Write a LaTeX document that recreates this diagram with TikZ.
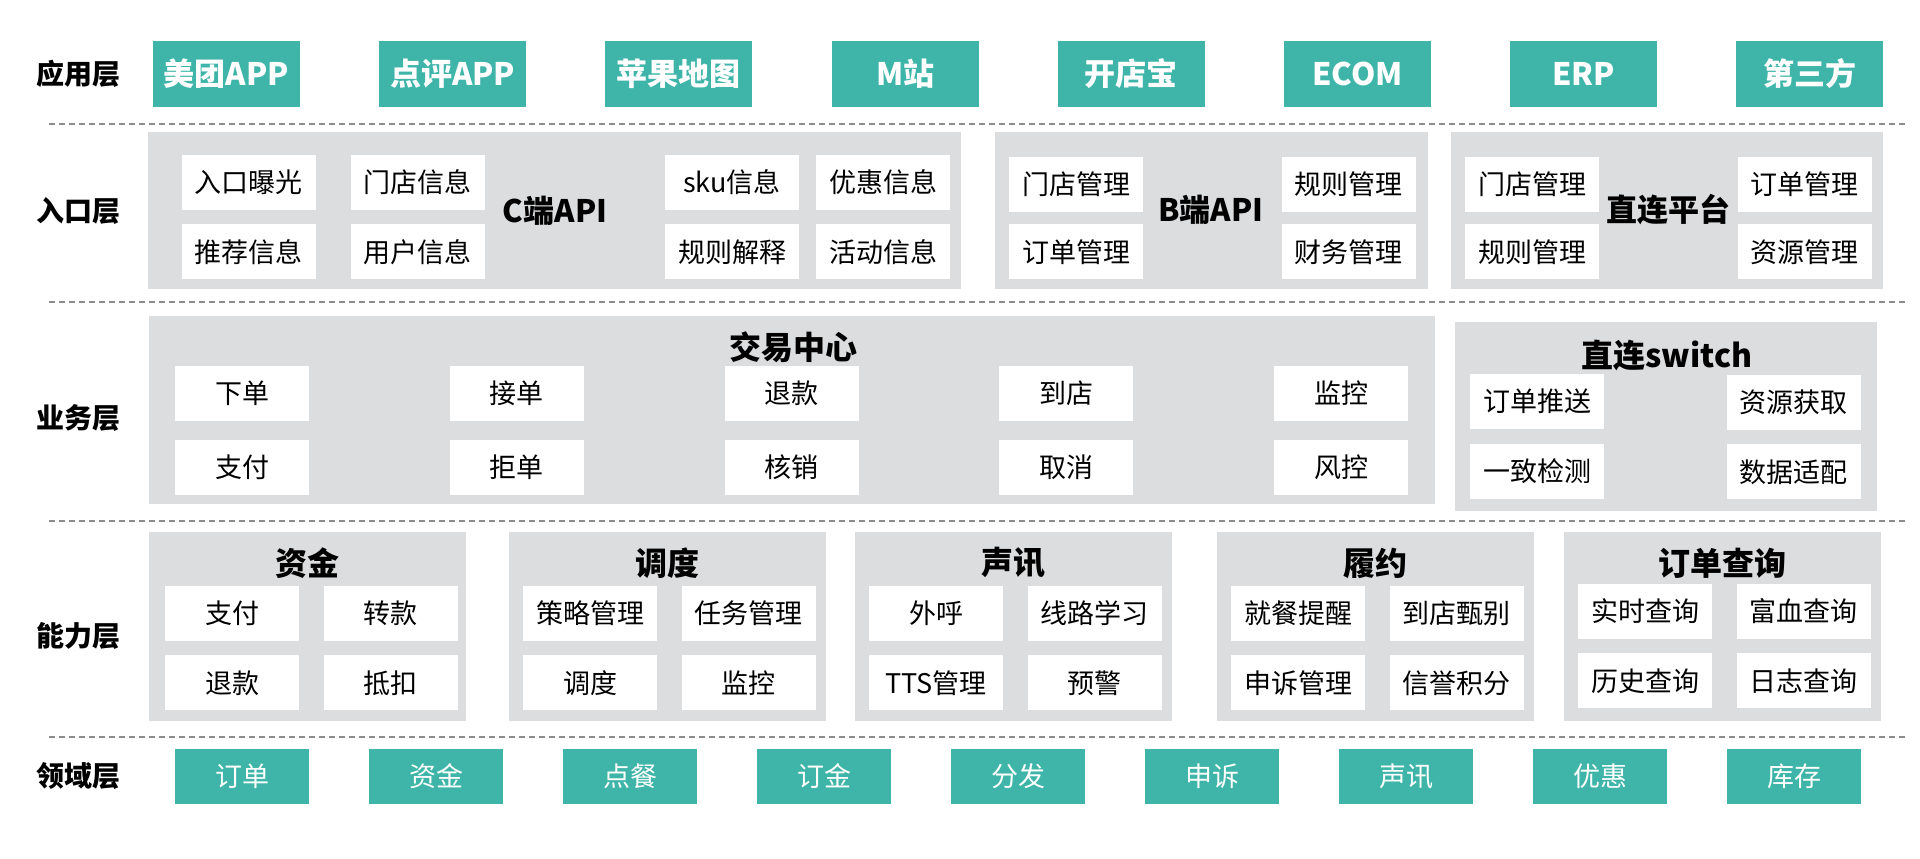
\documentclass[tikz,border=0pt]{standalone}
\usepackage{fontspec}
\setmainfont{Noto Sans CJK SC}
\usetikzlibrary{positioning}
\definecolor{tealbox}{RGB}{62,181,168}
\definecolor{panelgray}{RGB}{220,221,223}
\definecolor{sepgray}{RGB}{140,140,140}

\begin{document}
\begin{tikzpicture}[x=0.5pt, y=-0.5pt,
        layername/.style={font=\bfseries\fontsize{14pt}{16pt}\selectfont},
        app/.style={rectangle, fill=tealbox, text=white, minimum width=73.5pt, minimum height=33pt, inner sep=0pt, font=\bfseries\fontsize{15.5pt}{18pt}\selectfont},
        domtile/.style={rectangle, fill=tealbox, text=white, minimum width=67pt, minimum height=27.5pt, inner sep=0pt, font=\fontsize{13.5pt}{16pt}\selectfont},
        panel/.style={rectangle, fill=panelgray, inner sep=0pt},
        item/.style={rectangle, fill=white, minimum width=67pt, minimum height=27.5pt, inner sep=0pt, font=\fontsize{13.5pt}{16pt}\selectfont},
        paneltitle/.style={inner sep=0pt, font=\bfseries\fontsize{16pt}{18pt}\selectfont},
        apilabel/.style={inner sep=0pt, font=\bfseries\fontsize{15.5pt}{18pt}\selectfont},
        sepline/.style={draw=sepgray, line width=0.7pt, dash pattern=on 3pt off 2pt}
    ]
        \useasboundingbox (0,0) rectangle (1920,858);

        % Layer names
        \node[layername] (lApp) at (78.5,74) {应用层};
        \node[layername] (lEntry) at (78.5,211) {入口层};
        \node[layername] (lBiz) at (78.5,418) {业务层};
        \node[layername] (lCap) at (78.5,636) {能力层};
        \node[layername] (lDom) at (78.5,776) {领域层};

        % Separators
        \coordinate (s1w) at (49,124); \coordinate (s1e) at (1905,124);
        \coordinate (s2w) at (49,302); \coordinate (s2e) at (1905,302);
        \coordinate (s3w) at (49,521); \coordinate (s3e) at (1905,521);
        \coordinate (s4w) at (49,737); \coordinate (s4e) at (1905,737);
        \draw[sepline] (s1w) -- (s1e);
        \draw[sepline] (s2w) -- (s2e);
        \draw[sepline] (s3w) -- (s3e);
        \draw[sepline] (s4w) -- (s4e);

        % Application layer
        \node[app] (a1) at (226.5,74) {美团APP};
        \node[app, right=39.2pt of a1] (a2) {点评APP};
        \node[app, right=39.2pt of a2] (a3) {苹果地图};
        \node[app, right=39.2pt of a3] (a4) {M站};
        \node[app, right=39.2pt of a4] (a5) {开店宝};
        \node[app, right=39.2pt of a5] (a6) {ECOM};
        \node[app, right=39.2pt of a6] (a7) {ERP};
        \node[app, right=39.2pt of a7] (a8) {第三方};

        % Entry layer
        \node[panel, minimum width=406.5pt, minimum height=78.5pt] (pC) at (554.5,210.5) {};
        \node[panel, minimum width=216.5pt, minimum height=78.5pt] (pB) at (1211.5,210.5) {};
        \node[panel, minimum width=216pt, minimum height=78.5pt] (pD) at (1667,210.5) {};

        \node[item] (c1) at (248.5,182) {入口曝光};
        \node[item, below=7pt of c1] (c2) {推荐信息};
        \node[item] (c3) at (417.5,182) {门店信息};
        \node[item, below=7pt of c3] (c4) {用户信息};
        \node[apilabel] (cApi) at (555,211) {C端API};
        \node[item] (c5) at (732,182) {sku信息};
        \node[item, below=7pt of c5] (c6) {规则解释};
        \node[item] (c7) at (883,182) {优惠信息};
        \node[item, below=7pt of c7] (c8) {活动信息};

        \node[item] (b1) at (1076,184) {门店管理};
        \node[item, below=6pt of b1] (b2) {订单管理};
        \node[apilabel] (bApi) at (1211,210) {B端API};
        \node[item] (b3) at (1348.5,184) {规则管理};
        \node[item, below=6pt of b3] (b4) {财务管理};

        \node[item] (d1) at (1532,184) {门店管理};
        \node[item, below=6pt of d1] (d2) {规则管理};
        \node[apilabel] (dApi) at (1668,210) {直连平台};
        \node[item] (d3) at (1804.5,184) {订单管理};
        \node[item, below=6pt of d3] (d4) {资源管理};

        % Business layer
        \node[panel, minimum width=643pt, minimum height=94pt] (pTrade) at (792,410) {};
        \node[paneltitle] (tTrade) at (793,347) {交易中心};
        \node[item] (t1) at (242,393.5) {下单};
        \node[item, below=9pt of t1] (t2) {支付};
        \node[item, right=70pt of t1] (t3) {接单};
        \node[item, below=9pt of t3] (t4) {拒单};
        \node[item, right=70pt of t3] (t5) {退款};
        \node[item, below=9pt of t5] (t6) {核销};
        \node[item, right=70pt of t5] (t7) {到店};
        \node[item, below=9pt of t7] (t8) {取消};
        \node[item, right=70pt of t7] (t9) {监控};
        \node[item, below=9pt of t9] (t10) {风控};

        \node[panel, minimum width=210.75pt, minimum height=94.5pt] (pSwitch) at (1666,416.5) {};
        \node[paneltitle] (tSwitch) at (1667,355) {直连switch};
        \node[item] (w1) at (1537,401.5) {订单推送};
        \node[item, below=7pt of w1] (w2) {一致检测};
        \node[item] (w3) at (1793.5,402) {资源获取};
        \node[item, below=7pt of w3] (w4) {数据适配};

        % Capability layer
        \node[panel, minimum width=158.5pt, minimum height=94.5pt] (pFund) at (307,626.5) {};
        \node[panel, minimum width=158.5pt, minimum height=94.5pt] (pSched) at (667,626.5) {};
        \node[panel, minimum width=158.5pt, minimum height=94.5pt] (pVoice) at (1013,626.5) {};
        \node[panel, minimum width=158.5pt, minimum height=94.5pt] (pFulfil) at (1375,626.5) {};
        \node[panel, minimum width=158.5pt, minimum height=94.5pt] (pQuery) at (1722,626.5) {};

        \node[paneltitle] (tFund) at (307,563) {资金};
        \node[item] (f1) at (232,613) {支付};
        \node[item, right=12pt of f1] (f2) {转款};
        \node[item, below=7pt of f1] (f3) {退款};
        \node[item, below=7pt of f2] (f4) {抵扣};

        \node[paneltitle] (tSched) at (667,563) {调度};
        \node[item] (g1) at (590,613) {策略管理};
        \node[item, right=12pt of g1] (g2) {任务管理};
        \node[item, below=7pt of g1] (g3) {调度};
        \node[item, below=7pt of g2] (g4) {监控};

        \node[paneltitle] (tVoice) at (1013,563) {声讯};
        \node[item] (v1) at (936,613) {外呼};
        \node[item, right=12pt of v1] (v2) {线路学习};
        \node[item, below=7pt of v1] (v3) {TTS管理};
        \node[item, below=7pt of v2] (v4) {预警};

        \node[paneltitle] (tFulfil) at (1375,563) {履约};
        \node[item] (h1) at (1298,613) {就餐提醒};
        \node[item, right=12pt of h1] (h2) {到店甄别};
        \node[item, below=7pt of h1] (h3) {申诉管理};
        \node[item, below=7pt of h2] (h4) {信誉积分};

        \node[paneltitle] (tQuery) at (1722,563) {订单查询};
        \node[item] (q1) at (1645,611) {实时查询};
        \node[item, right=12pt of q1] (q2) {富血查询};
        \node[item, below=7pt of q1] (q3) {历史查询};
        \node[item, below=7pt of q2] (q4) {日志查询};

        % Domain layer
        \node[domtile] (m1) at (242,776.5) {订单};
        \node[domtile, right=29.6pt of m1] (m2) {资金};
        \node[domtile, right=29.6pt of m2] (m3) {点餐};
        \node[domtile, right=29.6pt of m3] (m4) {订金};
        \node[domtile, right=29.6pt of m4] (m5) {分发};
        \node[domtile, right=29.6pt of m5] (m6) {申诉};
        \node[domtile, right=29.6pt of m6] (m7) {声讯};
        \node[domtile, right=29.6pt of m7] (m8) {优惠};
        \node[domtile, right=29.6pt of m8] (m9) {库存};
    \end{tikzpicture}
\end{document}
